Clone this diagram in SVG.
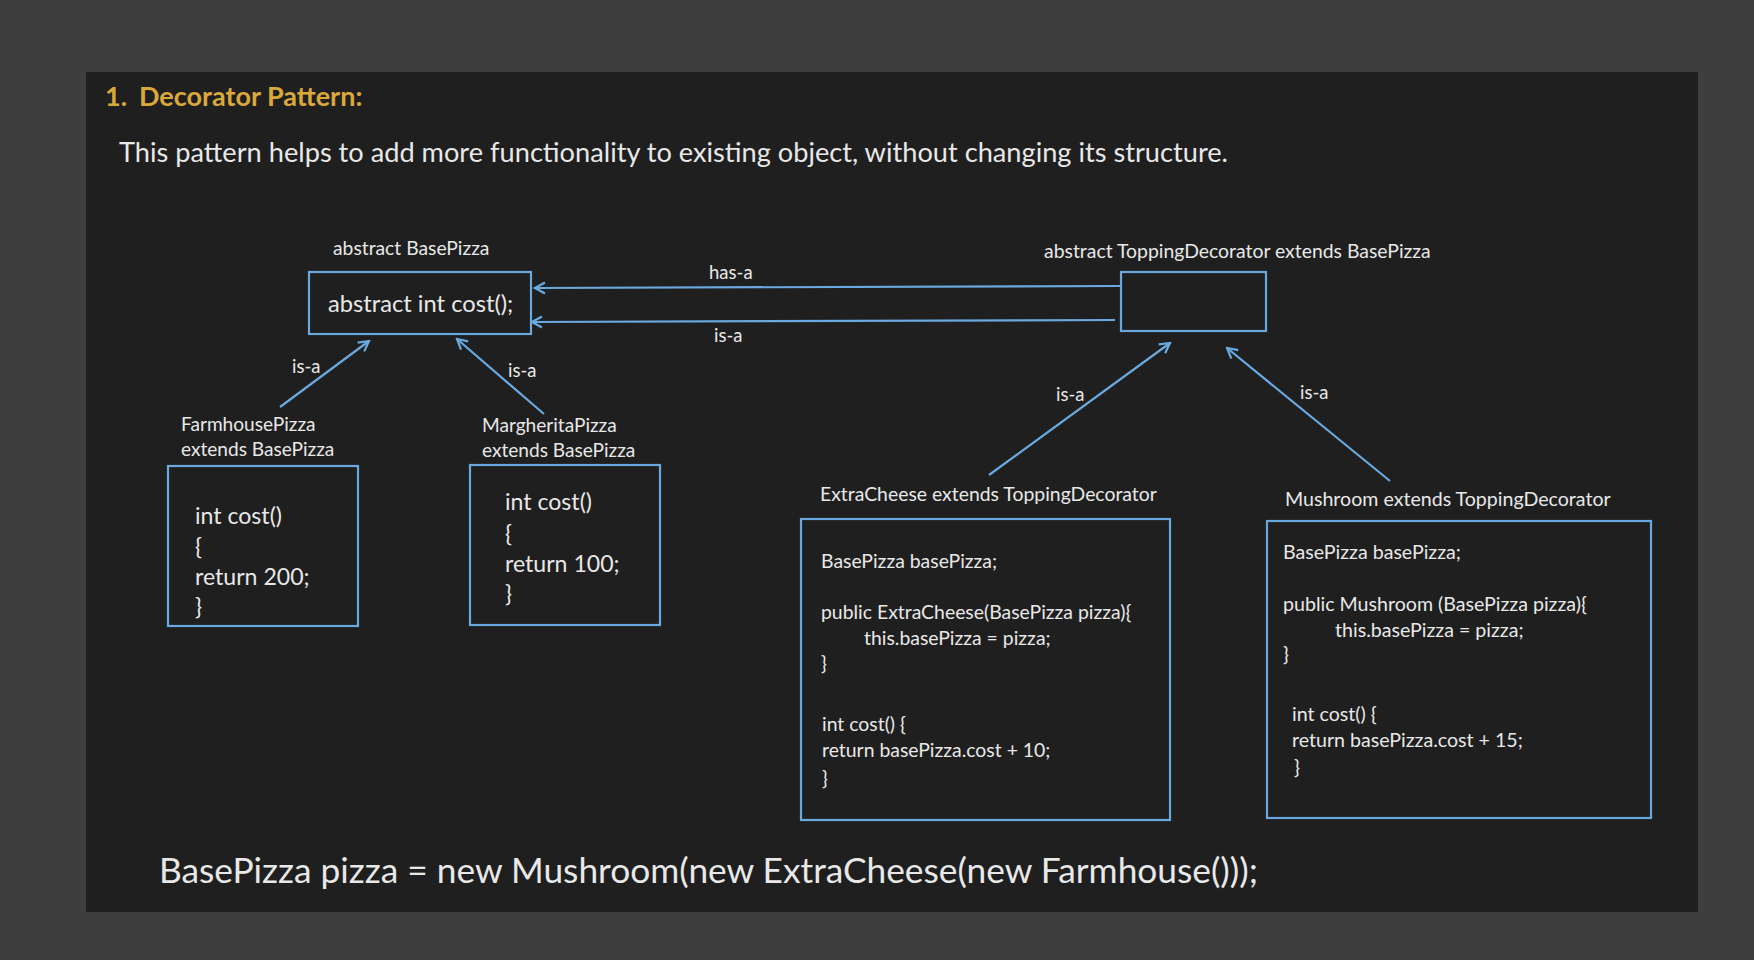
<svg xmlns="http://www.w3.org/2000/svg" width="1754" height="960" viewBox="0 0 1754 960">
<defs>
<style>
.t{font-family:Lato,"Liberation Sans",sans-serif;fill:#e8e8e8}
.hd{font-family:Lato,"Liberation Sans",sans-serif;font-weight:bold;font-size:27px;fill:#dba83a}
.box{fill:none;stroke:#6aa9e0;stroke-width:2.2}
.ln{fill:none;stroke:#6aa9e0;stroke-width:2.2;marker-end:url(#open)}
</style>
<marker id="open" viewBox="0 0 14 14" refX="12" refY="7" markerWidth="14" markerHeight="14" orient="auto" markerUnits="userSpaceOnUse">
<path d="M2,1.5 L12,7 L2,12.5" fill="none" stroke="#6aa9e0" stroke-width="2.2"/>
</marker>
</defs>
<rect x="0" y="0" width="1754" height="960" fill="#3e3e3e"/>
<rect x="86" y="72" width="1612" height="840" fill="#1f1f1f"/>
<g id="title">
<text class="hd" x="105" y="106">1.</text>
<text class="hd" x="139" y="106">Decorator Pattern:</text>
<text class="t" x="119" y="162" font-size="27.2">This pattern helps to add more functionality to existing object, without changing its structure.</text>
</g>
<g id="connectors">
<line class="ln" x1="1121" y1="286" x2="535" y2="288"/>
<text class="t" x="709" y="279" font-size="18.5">has-a</text>
<line class="ln" x1="1115" y1="320" x2="532" y2="322"/>
<text class="t" x="714" y="342" font-size="18.5">is-a</text>
<line class="ln" x1="280" y1="407" x2="369" y2="341"/>
<text class="t" x="292" y="373" font-size="18.5">is-a</text>
<line class="ln" x1="544" y1="414" x2="457" y2="339"/>
<text class="t" x="508" y="377" font-size="18.5">is-a</text>
<line class="ln" x1="989" y1="475" x2="1170" y2="343"/>
<text class="t" x="1056" y="401" font-size="18.5">is-a</text>
<line class="ln" x1="1390" y1="481" x2="1227" y2="348"/>
<text class="t" x="1300" y="399" font-size="18.5">is-a</text>
</g>
<g id="basepizza">
<text class="t" x="333" y="255" font-size="19.3">abstract BasePizza</text>
<rect class="box" x="309" y="272" width="222" height="62"/>
<text class="t" x="328" y="312" font-size="23.7">abstract int cost();</text>
</g>
<g id="toppingdecorator">
<text class="t" x="1044" y="258" font-size="19.4">abstract ToppingDecorator extends BasePizza</text>
<rect class="box" x="1121" y="272" width="145" height="59"/>
</g>
<g id="farmhouse">
<text class="t" x="181" y="431" font-size="19.1">FarmhousePizza</text>
<text class="t" x="181" y="456" font-size="19.1">extends BasePizza</text>
<rect class="box" x="168" y="466" width="190" height="160"/>
<text class="t" x="195" y="524" font-size="23.1">int cost()</text>
<text class="t" x="195" y="555" font-size="23.1">{</text>
<text class="t" x="195" y="585" font-size="23.1">return 200;</text>
<text class="t" x="195" y="615" font-size="23.1">}</text>
</g>
<g id="margherita">
<text class="t" x="482" y="432" font-size="19.1">MargheritaPizza</text>
<text class="t" x="482" y="457" font-size="19.1">extends BasePizza</text>
<rect class="box" x="470" y="465" width="190" height="160"/>
<text class="t" x="505" y="510" font-size="23.1">int cost()</text>
<text class="t" x="505" y="542" font-size="23.1">{</text>
<text class="t" x="505" y="572" font-size="23.1">return 100;</text>
<text class="t" x="505" y="602" font-size="23.1">}</text>
</g>
<g id="extracheese">
<text class="t" x="820" y="501" font-size="19.4">ExtraCheese extends ToppingDecorator</text>
<rect class="box" x="801" y="519" width="369" height="301"/>
<text class="t" x="821" y="568" font-size="19.4">BasePizza basePizza;</text>
<text class="t" x="821" y="619" font-size="19.4">public ExtraCheese(BasePizza pizza){</text>
<text class="t" x="864" y="645" font-size="19.4">this.basePizza = pizza;</text>
<text class="t" x="821" y="670" font-size="19.4">}</text>
<text class="t" x="822" y="731" font-size="19.4">int cost() {</text>
<text class="t" x="822" y="757" font-size="19.4">return basePizza.cost + 10;</text>
<text class="t" x="822" y="785" font-size="19.4">}</text>
</g>
<g id="mushroom">
<text class="t" x="1285" y="506" font-size="19.6">Mushroom extends ToppingDecorator</text>
<rect class="box" x="1267" y="521" width="384" height="297"/>
<text class="t" x="1283" y="559" font-size="19.6">BasePizza basePizza;</text>
<text class="t" x="1283" y="611" font-size="19.6">public Mushroom (BasePizza pizza){</text>
<text class="t" x="1335" y="637" font-size="19.6">this.basePizza = pizza;</text>
<text class="t" x="1283" y="661" font-size="19.6">}</text>
<text class="t" x="1292" y="721" font-size="19.6">int cost() {</text>
<text class="t" x="1292" y="747" font-size="19.6">return basePizza.cost + 15;</text>
<text class="t" x="1294" y="774" font-size="19.6">}</text>
</g>
<g id="usage">
<text class="t" x="159" y="883" font-size="35.3">BasePizza pizza = new Mushroom(new ExtraCheese(new Farmhouse()));</text>
</g>
</svg>
